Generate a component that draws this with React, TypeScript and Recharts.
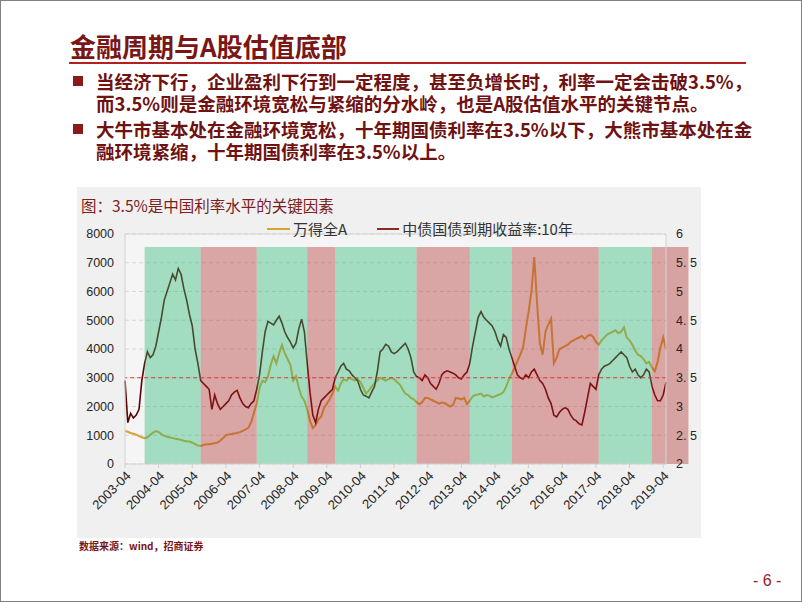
import { CartesianGrid, Line, LineChart, ReferenceArea, ReferenceLine, XAxis, YAxis } from "recharts";

// month index 0 = 2003-04, one value per month up to 2019-05
const yearTicks = [
  "2003-04", "2004-04", "2005-04", "2006-04", "2007-04", "2008-04", "2009-04", "2010-04", "2011-04",
  "2012-04", "2013-04", "2014-04", "2015-04", "2016-04", "2017-04", "2018-04", "2019-04"
];

// 万得全A
const windA = [
  1150, 1120, 1080, 1050, 1020, 970, 930, 895, 930, 1010, 1090, 1145,
  1110, 1040, 980, 950, 920, 900, 880, 860, 840, 810, 790, 780,
  740, 690, 645, 630, 660, 685, 690, 705, 720, 745, 820, 900,
  1000, 1030, 1040, 1060, 1080, 1110, 1150, 1200, 1260, 1450, 1780, 2100,
  2650, 2900, 2850, 3050, 3450, 3750, 3500, 3850, 4140, 3850, 3650, 3450,
  2900, 3050, 2650, 2350, 2200, 1900, 1500, 1250, 1350, 1550, 1650, 1950,
  2100, 2250, 2450, 2700, 2550, 2800, 2950, 2900, 3000, 2950, 2900, 2950,
  2850, 2650, 2450, 2550, 2700, 2800, 2900, 3000, 2950, 2900, 2950, 3000,
  2950, 2850, 2770, 2600, 2450, 2400, 2300, 2250, 2150, 2080, 2150, 2300,
  2300, 2250, 2200, 2150, 2100, 2140, 2120, 2060, 2000, 2050, 2300, 2280,
  2250, 2300, 2080, 2200, 2350, 2400, 2420, 2450, 2350, 2400, 2380, 2320,
  2350, 2400, 2430, 2500, 2700, 2950, 3150, 3350, 3580, 3800, 4050, 4700,
  5300, 6000, 7200, 5600, 4200, 3800, 4600, 4850, 5050, 3500, 3700, 4000,
  4050, 4100, 4150, 4250, 4300, 4350, 4400, 4450, 4350, 4450, 4500, 4420,
  4250, 4150, 4300, 4400, 4500, 4550, 4600, 4650, 4550, 4600, 4750, 4400,
  4300, 4150, 3950, 3800, 3750, 3650, 3500, 3550, 3350, 3230, 3550, 4050,
  4400, 4000
];

// 中债国债到期收益率:10年 (%)
const cgb10y = [
  3.45, 2.72, 2.88, 2.8, 2.85, 2.95, 3.45, 3.75, 3.95, 3.85, 3.9, 4.05,
  4.3, 4.55, 4.85, 5.0, 5.15, 5.3, 5.2, 5.4, 5.3, 5.05, 4.85, 4.6,
  4.4, 4.0, 3.75, 3.45, 3.4, 3.35, 3.3, 2.95, 3.2, 3.05, 2.95, 3.0,
  3.05, 3.1, 3.2, 3.25, 3.28, 3.15, 3.05, 3.0, 2.98, 3.05, 3.1, 3.3,
  3.55, 3.95, 4.3, 4.48, 4.45, 4.42, 4.5, 4.57, 4.45, 4.3, 4.2, 4.12,
  4.02, 4.1, 4.35, 4.52, 4.3, 3.75, 3.25, 2.85, 2.72, 2.95, 3.1, 3.15,
  3.2, 3.25, 3.3, 3.5, 3.6, 3.7, 3.75, 3.65, 3.62, 3.55, 3.5, 3.45,
  3.3, 3.2, 3.18, 3.15, 3.25, 3.35, 3.6, 3.95, 4.0, 4.08, 4.05, 3.95,
  3.92, 3.95, 4.0, 4.05, 4.1, 4.0, 3.85, 3.6, 3.52, 3.5, 3.45, 3.55,
  3.5, 3.4, 3.35, 3.3, 3.4, 3.55, 3.6, 3.62, 3.6, 3.58, 3.55, 3.5,
  3.48, 3.55, 3.6, 3.75, 4.05, 4.3, 4.55, 4.65, 4.55, 4.5, 4.45, 4.4,
  4.3, 4.15, 4.05, 4.25, 4.2, 4.0, 3.85, 3.7, 3.55, 3.5, 3.48, 3.55,
  3.5, 3.6, 3.65, 3.55, 3.45, 3.4, 3.3, 3.15, 3.05, 2.85, 2.82, 2.9,
  2.95, 2.98, 2.95, 2.85, 2.78, 2.75, 2.7, 2.68, 2.9, 3.15, 3.4, 3.35,
  3.3, 3.55, 3.65, 3.7, 3.72, 3.75, 3.8, 3.85, 3.9, 3.95, 3.9, 3.85,
  3.7, 3.6, 3.65, 3.55, 3.5, 3.55, 3.65, 3.6, 3.35, 3.2, 3.1, 3.1,
  3.2, 3.42
];

const leftTicks = [0, 1000, 2000, 3000, 4000, 5000, 6000, 7000, 8000];
const rightTicks = [2, 2.5, 3, 3.5, 4, 4.5, 5, 5.5, 6];

// 宽松 = green band, 紧缩 = red band
const bands = [
  { from: "2003-11", to: "2005-07", kind: "loose" },
  { from: "2005-07", to: "2007-03", kind: "tight" },
  { from: "2007-03", to: "2008-09", kind: "loose" },
  { from: "2008-09", to: "2009-07", kind: "tight" },
  { from: "2009-07", to: "2011-12", kind: "loose" },
  { from: "2011-12", to: "2013-07", kind: "tight" },
  { from: "2013-07", to: "2014-10", kind: "loose" },
  { from: "2014-10", to: "2017-05", kind: "tight" },
  { from: "2017-05", to: "2018-12", kind: "loose" },
  { from: "2018-12", to: "2020-01", kind: "tight" }
];

const monthIndex = (label: string) => {
  const [y, m] = label.split("-").map(Number);
  return (y - 2003) * 12 + (m - 4);
};

const data = windA.map((v, i) => ({ m: i, windA: v, cgb10y: cgb10y[i] }));

const DARK_RED = "#7a1616";
const tickFont = { fontSize: 12.5, fill: "#262626", fontFamily: "'Liberation Sans', Arial, sans-serif" };
const xTickFont = { ...tickFont, fontSize: 13 };

const bullets = [
  ["当经济下行，企业盈利下行到一定程度，甚至负增长时，利率一定会击破3.5%，", "而3.5%则是金融环境宽松与紧缩的分水岭，也是A股估值水平的关键节点。"],
  ["大牛市基本处在金融环境宽松，十年期国债利率在3.5%以下，大熊市基本处在金", "融环境紧缩，十年期国债利率在3.5%以上。"]
];

export default function App() {
  const cjk = "'Noto Sans CJK SC', 'Noto Sans', sans-serif";

  return (
    <div
      style={{
        position: "absolute",
        left: 0,
        top: 0,
        width: 802,
        height: 602,
        background: "#fff",
        border: "1px solid #808080",
        boxSizing: "border-box",
        fontFamily: cjk,
        overflow: "hidden"
      }}
    >
      <div style={{ position: "absolute", left: 69, top: 28, fontSize: 26, lineHeight: "34px", color: DARK_RED, fontWeight: 700, whiteSpace: "nowrap" }}>
        金融周期与A股估值底部
      </div>
      <div style={{ position: "absolute", left: 68, top: 61, width: 677, height: 2, background: "#b3201f" }} />

      {bullets.map((lines, bi) => (
        <div key={bi}>
          <div style={{ position: "absolute", left: 72, top: bi === 0 ? 75 : 123, width: 10, height: 10, background: "#8b1a1a" }} />
          <div
            style={{
              position: "absolute",
              left: 95,
              top: (bi === 0 ? 80 : 128) - 11,
              fontSize: 18.5,
              lineHeight: "22px",
              fontWeight: 700,
              color: "#6e1212",
              whiteSpace: "nowrap"
            }}
          >
            {lines[0]}
            <br />
            {lines[1]}
          </div>
        </div>
      ))}

      <div style={{ position: "absolute", left: 76, top: 186, width: 624, height: 351, background: "#f0f0f0" }}>
        <div style={{ position: "absolute", left: 4, top: 8, fontSize: 15.5, lineHeight: "20px", color: "#7a2020", whiteSpace: "nowrap" }}>
          图：3.5%是中国利率水平的关键因素
        </div>

        <LineChart width={624} height={351} data={data} margin={{ top: 47, right: 0, bottom: 0, left: 0 }}>
          <CartesianGrid yAxisId="left" vertical={false} stroke="#d6d6d6" strokeDasharray="4 3" fill="#f5f5f5" />
          <XAxis
            dataKey="m"
            type="number"
            domain={[0, 193]}
            ticks={yearTicks.map(monthIndex)}
            interval={0}
            tickFormatter={(v: number) => yearTicks[Math.round(v / 12)]}
            angle={-45}
            textAnchor="end"
            height={74}
            tick={xTickFont}
            tickSize={4}
            tickLine={{ stroke: "#cfcfcf" }}
            axisLine={{ stroke: "#d3d3d3" }}
          />
          <YAxis
            yAxisId="left"
            domain={[0, 8000]}
            ticks={leftTicks}
            interval={0}
            width={48}
            tick={tickFont}
            tickLine={false}
            tickMargin={5}
            axisLine={{ stroke: "#d3d3d3" }}
          />
          <YAxis
            yAxisId="right"
            orientation="right"
            domain={[2, 6]}
            ticks={rightTicks}
            interval={0}
            width={35}
            tick={tickFont}
            tickFormatter={(v: number) => (Number.isInteger(v) ? String(v) : v.toFixed(1).replace(".", ". "))}
            tickLine={false}
            tickMargin={4}
            axisLine={{ stroke: "#d3d3d3" }}
          />
          <ReferenceLine yAxisId="left" y={8000} stroke="#d3d3d3" />

          <Line yAxisId="left" dataKey="windA" stroke="#d4a437" strokeWidth={2} dot={false} isAnimationActive={false} />
          <Line yAxisId="right" dataKey="cgb10y" stroke="#5e0000" strokeWidth={1.6} dot={false} isAnimationActive={false} />

          {bands.map((b) => (
            <ReferenceArea
              key={b.from}
              yAxisId="left"
              x1={monthIndex(b.from)}
              x2={monthIndex(b.to)}
              y1={0}
              y2={7550}
              fill={b.kind === "loose" ? "rgb(40,184,114)" : "rgb(174,44,44)"}
              fillOpacity={0.4}
              stroke="none"
              ifOverflow="visible"
              zIndex={450}
            />
          ))}

          <ReferenceLine yAxisId="right" y={3.5} stroke="#e03a3a" strokeDasharray="4 3" zIndex={460} />
        </LineChart>

        <div
          style={{
            position: "absolute",
            left: 190,
            top: 32,
            zIndex: 2,
            fontSize: 15,
            lineHeight: "20px",
            color: "#333",
            whiteSpace: "nowrap",
            display: "flex",
            alignItems: "center"
          }}
        >
          <span style={{ display: "inline-block", width: 23, height: 2, background: "#d4a437", marginRight: 3 }} />
          <span>万得全A</span>
          <span style={{ display: "inline-block", width: 22, height: 2, background: "#8b2a2a", marginLeft: 30, marginRight: 3 }} />
          <span>中债国债到期收益率:10年</span>
        </div>
      </div>

      <div style={{ position: "absolute", left: 78, top: 538, fontSize: 10, lineHeight: "13px", fontWeight: 700, color: DARK_RED, whiteSpace: "nowrap" }}>
        数据来源：wind，招商证券
      </div>

      <div style={{ position: "absolute", left: 752, top: 569, fontSize: 16, lineHeight: "22px", color: "#9b2222", whiteSpace: "nowrap", fontFamily: "'Liberation Sans', Arial, sans-serif" }}>
        - 6 -
      </div>
    </div>
  );
}
